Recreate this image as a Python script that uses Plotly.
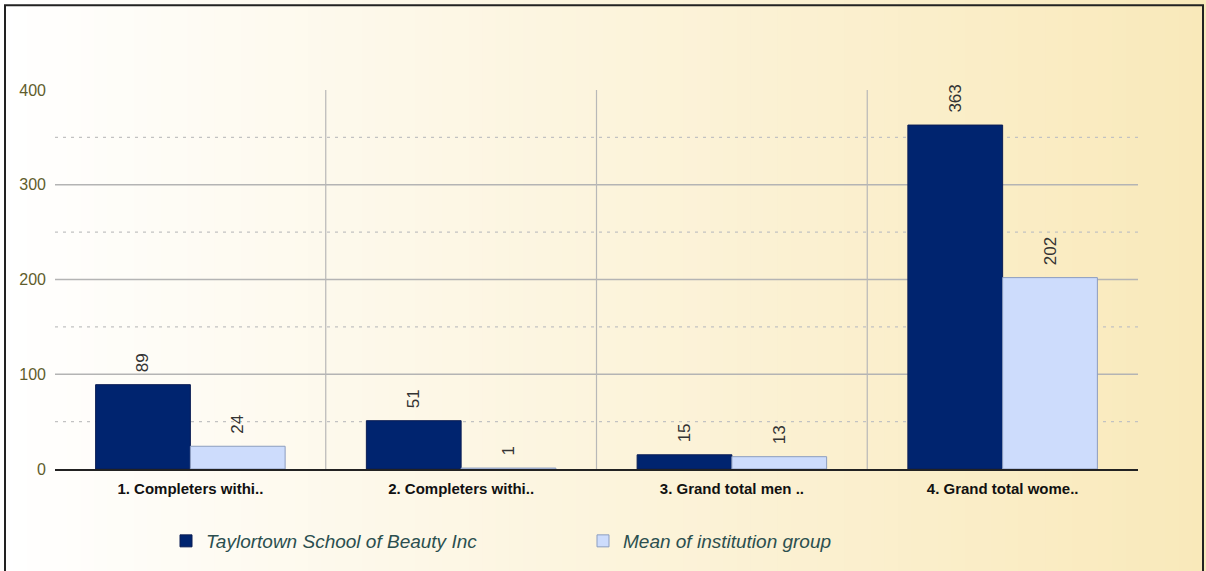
import plotly.graph_objects as go

categories = ["1. Completers withi..", "2. Completers withi..", "3. Grand total men ..", "4. Grand total wome.."]
school_name = "Taylortown School of Beauty Inc"
school_values = [89, 51, 15, 363]
group_name = "Mean of institution group"
group_values = [24, 1, 13, 202]
y_ticks = [0, 100, 200, 300, 400]
solid_grid = [100, 200, 300]
dotted_grid = [50, 150, 250, 350]

W, H = 1206, 571
ML, MR, MT, MB = 55, 68, 90, 101
PW, PH = W - ML - MR, H - MT - MB

def px2x(px):
    return (px - ML) / PW

def py2y(py):
    return (H - MB - py) / PH

LABEL_PAD = "\u00a0\u00a0"
label_font = dict(family="Liberation Sans, Arial", size=17, color="#333333")

fig = go.Figure()
fig.add_trace(go.Bar(
    name=school_name, x=categories, y=school_values,
    marker=dict(color="#00246f", line=dict(color="#0b1d55", width=1)),
    text=[LABEL_PAD + str(v) for v in school_values], textposition="outside", textangle=-90,
    textfont=label_font, cliponaxis=False, hoverinfo="x+y",
))
fig.add_trace(go.Bar(
    name=group_name, x=categories, y=group_values,
    marker=dict(color="#cddcfc", line=dict(color="#8c9dbf", width=1)),
    text=[LABEL_PAD + str(v) for v in group_values], textposition="outside", textangle=-90,
    textfont=label_font, cliponaxis=False, hoverinfo="x+y",
))

shapes = []
# background gradient (white -> light gold)
n = 90
c0 = (255, 255, 255)
c1 = (249, 233, 186)
for i in range(n):
    a = W * i / n
    b = W * (i + 1) / n + 1
    t = (i + 0.5) / n
    col = tuple(round(c0[k] + (c1[k] - c0[k]) * t) for k in range(3))
    shapes.append(dict(type="rect", xref="paper", yref="paper", layer="below",
                       x0=px2x(a), x1=px2x(b), y0=py2y(H + 5), y1=py2y(-5),
                       line=dict(width=0), fillcolor="rgb(%d,%d,%d)" % col))
# grid lines
for g in solid_grid:
    shapes.append(dict(type="line", xref="paper", yref="y", layer="below",
                       x0=0, x1=1, y0=g, y1=g, line=dict(color="#b4b4b4", width=1.5)))
for g in dotted_grid:
    shapes.append(dict(type="line", xref="paper", yref="y", layer="below",
                       x0=0, x1=1, y0=g, y1=g, line=dict(color="#c2c2c2", width=1.2, dash="3px,5px")))
# category separators
for i in range(len(categories) - 1):
    shapes.append(dict(type="line", xref="x", yref="paper", layer="below",
                       x0=i + 0.5, x1=i + 0.5, y0=0, y1=1, line=dict(color="#b8b8b8", width=1.2)))
# frame
shapes.append(dict(type="rect", xref="paper", yref="paper", layer="above",
                   x0=px2x(5), x1=px2x(1203), y0=py2y(575), y1=py2y(5),
                   line=dict(color="#222222", width=2), fillcolor="rgba(0,0,0,0)"))

fig.update_layout(
    width=W, height=H,
    margin=dict(l=ML, r=MR, t=MT, b=MB),
    paper_bgcolor="white", plot_bgcolor="rgba(0,0,0,0)",
    barmode="group", bargap=0.3, bargroupgap=0,
    shapes=shapes,
    showlegend=True,
    legend=dict(orientation="h", x=px2x(166), y=py2y(541), xanchor="left", yanchor="middle",
                font=dict(family="Liberation Sans, Arial", size=19, color="#2b4f4f", style="italic"),
                bgcolor="rgba(0,0,0,0)", entrywidth=372, entrywidthmode="pixels",
                itemclick=False),
    xaxis=dict(showgrid=False, showline=True, linecolor="#222222", linewidth=2,
               tickfont=dict(family="Liberation Sans, Arial", size=15, color="#111111", weight="bold"),
               ticks="", ticklabelstandoff=5),
    yaxis=dict(range=[0, 400], tickvals=y_ticks, showgrid=False, zeroline=False,
               tickfont=dict(family="Liberation Sans, Arial", size=16, color="#5f5d2c"),
               ticks="", ticklabelstandoff=8),
    font=dict(family="Liberation Sans, Arial"),
)
fig.write_html("out.html", config={"displayModeBar": False},
               post_script="document.body.style.margin='0px';document.body.style.padding='0px';")
